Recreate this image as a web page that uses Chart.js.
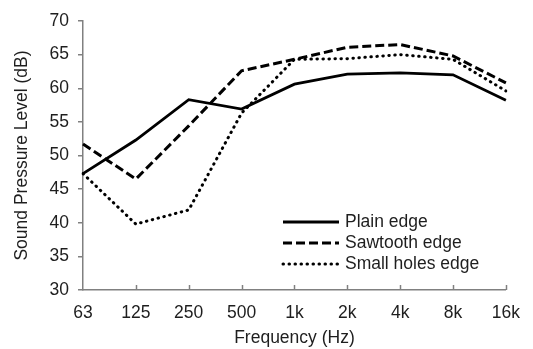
<!DOCTYPE html>
<html>
<head>
<meta charset="utf-8">
<script src="https://cdn.jsdelivr.net/npm/chart.js@4/dist/chart.umd.min.js"></script>
<style>
  html, body { margin: 0; padding: 0; background: #fff; }
  #wrap { width: 533px; height: 349px; }
</style>
</head>
<body>
<div id="wrap"><canvas id="chart" width="533" height="349"></canvas></div>
<script>
// Values.
const frequencies = ["63", "125", "250", "500", "1k", "2k", "4k", "8k", "16k"];
const plainEdge = [47.3, 52.3, 58.3, 56.9, 60.6, 62.1, 62.3, 62.0, 58.2];
const sawtoothEdge = [51.7, 46.5, 54.4, 62.6, 64.3, 66.1, 66.5, 64.8, 60.8];
const smallHolesEdge = [47.3, 39.8, 41.9, 56.3, 64.3, 64.4, 65.0, 64.3, 59.6];
const yTicks = [30, 35, 40, 45, 50, 55, 60, 65, 70];

const FONT = "'Liberation Sans', Arial, sans-serif";
const FS = 17.5;
const TEXT = "#1e1e1e";
const AXIS = "#808080";

// Small tick marks on the x axis point up into the plot.
const insideTicks = {
  id: "insideTicks",
  afterDraw(chart) {
    const x = chart.scales.x;
    const ctx = chart.ctx;
    const bottom = chart.chartArea.bottom;
    ctx.save();
    ctx.strokeStyle = AXIS;
    ctx.lineWidth = 1.5;
    x.ticks.forEach((t, i) => {
      if (i === 0) return;
      const px = Math.round(x.getPixelForTick(i)) + 0.5;
      ctx.beginPath();
      ctx.moveTo(px, bottom);
      ctx.lineTo(px, bottom - 5);
      ctx.stroke();
    });
    ctx.restore();
  },
};

// Legend sits inside the plot, lower right.
const innerLegend = {
  id: "innerLegend",
  afterDraw(chart) {
    const ctx = chart.ctx;
    const rows = [222, 243, 264];
    ctx.save();
    chart.data.datasets.forEach((ds, i) => {
      const y = rows[i];
      ctx.strokeStyle = ds.borderColor;
      ctx.lineWidth = ds.borderWidth;
      ctx.lineCap = ds.borderCapStyle || "butt";
      ctx.setLineDash(ds.borderDash || []);
      ctx.beginPath();
      ctx.moveTo(283, y);
      ctx.lineTo(339, y);
      ctx.stroke();
      ctx.setLineDash([]);
      ctx.fillStyle = TEXT;
      ctx.font = `${FS}px ${FONT}`;
      ctx.textBaseline = "middle";
      ctx.fillText(ds.label, 345, y + 0.5);
    });
    ctx.restore();
  },
};

new Chart(document.getElementById("chart"), {
  type: "line",
  data: {
    labels: frequencies,
    datasets: [
      { label: "Plain edge", data: plainEdge, borderColor: "#000", borderWidth: 2.8, borderDash: [] },
      { label: "Sawtooth edge", data: sawtoothEdge, borderColor: "#000", borderWidth: 3, borderDash: [9, 4] },
      { label: "Small holes edge", data: smallHolesEdge, borderColor: "#000", borderWidth: 3, borderDash: [0.5, 5.5], borderCapStyle: "round" },
    ],
  },
  options: {
    responsive: false,
    animation: false,
    events: [],
    layout: { padding: { top: 21, right: 20, left: 0, bottom: 0 } },
    elements: { point: { radius: 0 }, line: { tension: 0, fill: false } },
    plugins: { legend: { display: false }, tooltip: { enabled: false } },
    scales: {
      x: {
        type: "category",
        offset: false,
        grid: { display: true, drawOnChartArea: false, drawTicks: false, color: AXIS },
        border: { display: true, color: AXIS, width: 1.5 },
        ticks: { color: TEXT, font: { family: FONT, size: FS }, padding: 13, maxRotation: 0, autoSkip: false },
        title: { display: true, text: "Frequency (Hz)", color: TEXT, font: { family: FONT, size: FS }, padding: { top: 0, bottom: 0 } },
        afterFit: (s) => { s.height = 59; },
      },
      y: {
        min: yTicks[0],
        max: yTicks[yTicks.length - 1],
        afterBuildTicks: (s) => { s.ticks = yTicks.map((v) => ({ value: v })); },
        grid: { drawOnChartArea: false, drawTicks: true, tickLength: 5, color: AXIS, lineWidth: 1.5 },
        border: { display: true, color: AXIS, width: 1.5 },
        ticks: { color: TEXT, font: { family: FONT, size: FS }, padding: 9 },
        title: { display: true, text: "Sound Pressure Level (dB)", color: TEXT, font: { family: FONT, size: FS }, padding: { top: 12, bottom: 0 } },
        afterFit: (s) => { s.width = 83; },
      },
    },
  },
  plugins: [insideTicks, innerLegend],
});
</script>
</body>
</html>
